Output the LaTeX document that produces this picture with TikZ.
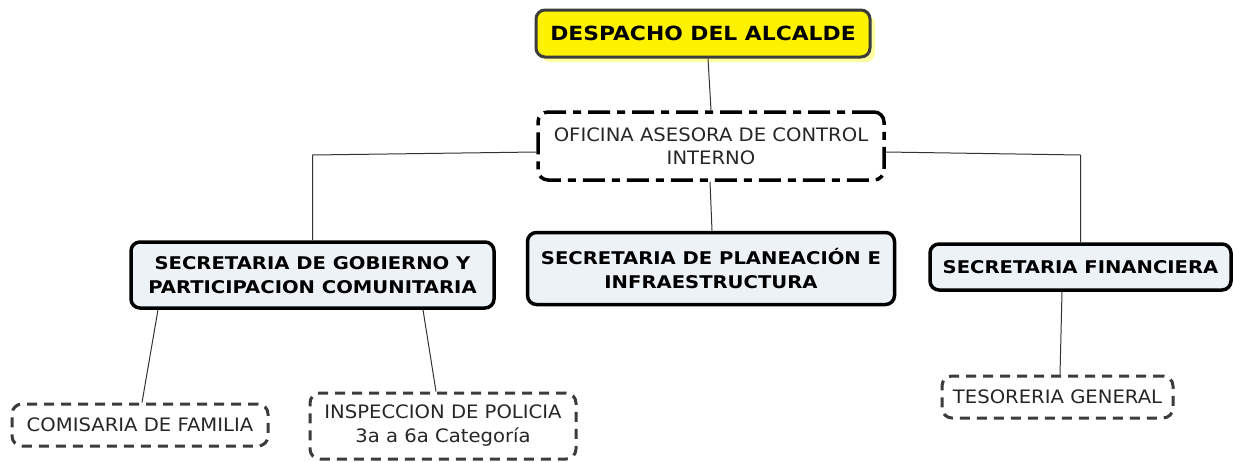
\documentclass[tikz,border=0pt]{standalone}
\usepackage{fontspec}
\setmainfont{DejaVu Sans}[FakeStretch=1.06,BoldFeatures={FakeStretch=1.12}]
\definecolor{boxfill}{RGB}{236,242,245}
\definecolor{dgray}{RGB}{60,60,60}
\definecolor{shadowy}{RGB}{255,255,160}
\begin{document}
\begin{tikzpicture}[x=1pt,y=-1pt,
  every node/.style={inner sep=0pt, align=center},
  topbox/.style={draw=dgray, line width=3pt, rounded corners=9pt, fill=yellow,
     font=\bfseries\fontsize{19.5}{22}\selectfont},
  secbox/.style={draw=black, line width=3.5pt, rounded corners=9pt, fill=boxfill,
     font=\bfseries\fontsize{17.5}{24.5}\selectfont},
  dashbox/.style={draw=dgray, line width=3pt, rounded corners=10pt,
     dash pattern=on 10pt off 7pt, font=\fontsize{18.5}{24}\selectfont, text=black!85},
  ctrlbox/.style={draw=black, line width=3.5pt, rounded corners=10pt,
     dash pattern=on 22pt off 7pt on 8pt off 7pt, font=\fontsize{18.5}{23}\selectfont, text=black!85},
  link/.style={draw=black!80, line width=1pt}]
\useasboundingbox (0,0) rectangle (1233,461);
% shadow
\fill[shadowy, rounded corners=9pt] (541,15) rectangle (875,62);
\node[topbox, minimum width=334pt, minimum height=47pt] (desp) at (703,33.5) {DESPACHO DEL ALCALDE};
\node[ctrlbox, minimum width=346pt, minimum height=68pt] (ofi) at (711,146) {OFICINA ASESORA DE CONTROL\\INTERNO};
\node[secbox, minimum width=363pt, minimum height=66pt] (gob) at (312.5,275) {SECRETARIA DE GOBIERNO Y\\PARTICIPACION COMUNITARIA};
\node[secbox, minimum width=367pt, minimum height=72pt] (plan) at (711,268.5) {SECRETARIA DE PLANEACIÓN E\\INFRAESTRUCTURA};
\node[secbox, minimum width=301pt, minimum height=46pt] (fin) at (1080.5,267) {SECRETARIA FINANCIERA};
\node[dashbox, minimum width=256pt, minimum height=42pt] (com) at (140,425) {COMISARIA DE FAMILIA};
\node[dashbox, minimum width=266pt, minimum height=66pt] (insp) at (443,426) {INSPECCION DE POLICIA\\3a a 6a Categoría};
\node[dashbox, minimum width=231pt, minimum height=42pt] (tes) at (1057.5,397) {TESORERIA GENERAL};
% connectors
\draw[link] ([xshift=5pt]desp.south) -- (ofi.north);
\draw[link] ([yshift=-6pt]ofi.west) -- ([yshift=-9pt]ofi.west -| gob.north) -- (gob.north);
\draw[link] ([yshift=-6pt]ofi.east) -- ([yshift=-9pt]ofi.east -| fin.north) -- (fin.north);
\draw[link] ([xshift=-1pt]ofi.south) -- ([xshift=1pt]plan.north);
\draw[link] ([xshift=-154.5pt]gob.south) -- ([xshift=2pt]com.north);
\draw[link] ([xshift=110.5pt]gob.south) -- ([xshift=-7pt]insp.north);
\draw[link] ([xshift=-18.5pt]fin.south) -- ([xshift=2.5pt]tes.north);
\end{tikzpicture}
\end{document}
